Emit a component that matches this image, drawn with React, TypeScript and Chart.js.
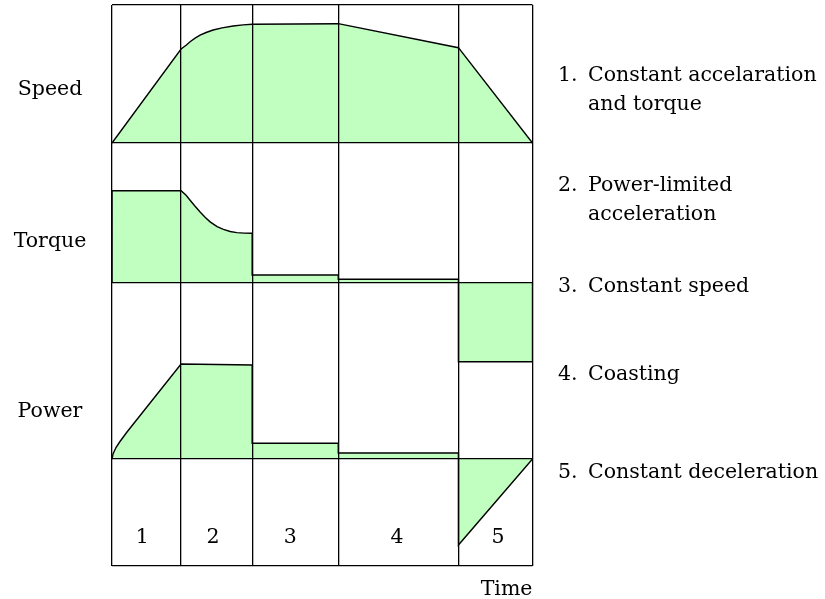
import React, { useEffect, useRef } from "react";
import { Chart, registerables } from "chart.js";

Chart.register(...registerables);

// Time axis: boundaries of the five phases
const segmentBounds = [0, 1.643, 3.333, 5.381, 8.238, 10];
const segmentLabels = ["1", "2", "3", "4", "5"];
const segmentLabelTimes = [0.72, 2.4, 4.24, 6.78, 9.18];
const segmentLabelLevel = 4.1;

// Vertical layout: panel baselines (shared vertical scale 0..100)
const panelNames = ["Speed", "Torque", "Power"];
const panelBaselines = [75.4, 50.45, 19.07];
const panelLabelLevels = [83.96, 56.92, 26.56];

// Speed profile
const speedTime = [0, 1.643, 1.762, 1.857, 1.976, 2.095, 2.238, 2.405, 2.619, 2.881, 3.119, 3.333, 5.381, 8.238, 10];
const speedValues = [0, 16.76, 17.43, 18.06, 18.68, 19.21, 19.7, 20.14, 20.53, 20.86, 21.05, 21.16, 21.27, 16.99, 0];

// Torque profile
const torqueTime = [0, 0, 1.643, 1.762, 1.857, 1.976, 2.095, 2.214, 2.333, 2.5, 2.65, 2.81, 2.97, 3.14, 3.333, 3.333, 5.381, 5.381, 8.238, 8.238, 10, 10];
const torqueValues = [0, 16.45, 16.45, 15.62, 14.75, 13.68, 12.66, 11.72, 10.9, 10.05, 9.55, 9.17, 8.97, 8.88, 8.86, 1.43, 1.43, 0.66, 0.66, -14.03, -14.03, 0];

// Power profile
const powerTime = [0, 0.024, 0.095, 0.19, 0.357, 0.905, 1.643, 3.333, 3.333, 5.381, 5.381, 8.238, 8.238, 10];
const powerValues = [0, 0.89, 2.05, 3.12, 4.81, 9.98, 16.93, 16.75, 2.8, 2.8, 1.07, 1.07, -15.33, 0];

// Legend text on the right
const listNumbers = ["1.", "2.", "3.", "4.", "5."];
const listLines = [
  ["Constant accelaration", "and torque"],
  ["Power-limited", "acceleration"],
  ["Constant speed"],
  ["Coasting"],
  ["Constant deceleration"],
];
const listLevels = [86.45, 66.84, 48.84, 33.16, 15.69];
const listLineStep = 5.17;

const FILL = "#c1ffc1";
const LINE = "#000000";
const FONT = '20.5px "DejaVu Serif"';

function makeDataset(times: number[], values: number[], base: number) {
  return {
    data: times.map((t, i) => ({ x: t, y: base + values[i] })),
    borderColor: LINE,
    borderWidth: 1.4,
    backgroundColor: FILL,
    fill: { value: base },
    pointRadius: 0,
    tension: 0,
  };
}

const textPlugin = {
  id: "textPlugin",
  afterDraw(chart: any) {
    const { ctx, chartArea, scales } = chart;
    const x = scales.x;
    const y = scales.y;
    ctx.save();
    ctx.fillStyle = "#000";
    ctx.font = FONT;
    ctx.textBaseline = "alphabetic";

    ctx.textAlign = "center";
    panelNames.forEach((n, i) => {
      ctx.fillText(n, chartArea.left - 62, y.getPixelForValue(panelLabelLevels[i]));
    });
    segmentLabels.forEach((s, i) => {
      ctx.fillText(s, x.getPixelForValue(segmentLabelTimes[i]), y.getPixelForValue(segmentLabelLevel));
    });

    ctx.textAlign = "right";
    ctx.fillText("Time", chartArea.right, chartArea.bottom + 29);

    ctx.textAlign = "left";
    listNumbers.forEach((num, i) => {
      ctx.fillText(num, chartArea.right + 25.5, y.getPixelForValue(listLevels[i]));
      listLines[i].forEach((line, j) => {
        ctx.fillText(line, chartArea.right + 55.5, y.getPixelForValue(listLevels[i] - j * listLineStep));
      });
    });
    ctx.restore();
  },
};

export default function App() {
  const ref = useRef<HTMLCanvasElement | null>(null);
  useEffect(() => {
    if (!ref.current) return;
    const chart = new Chart(ref.current, {
      type: "line",
      data: {
        datasets: [
          makeDataset(speedTime, speedValues, panelBaselines[0]),
          makeDataset(torqueTime, torqueValues, panelBaselines[1]),
          makeDataset(powerTime, powerValues, panelBaselines[2]),
        ] as any,
      },
      options: {
        animation: false,
        responsive: false,
        layout: { padding: { left: 112, top: 5, right: 292.5, bottom: 33 } },
        plugins: { legend: { display: false }, tooltip: { enabled: false } },
        scales: {
          x: {
            type: "linear",
            min: 0,
            max: 10,
            afterBuildTicks: (s: any) => {
              s.ticks = segmentBounds.map((v) => ({ value: v }));
            },
            afterFit: (s: any) => {
              s.height = 0;
            },
            ticks: { display: false },
            grid: { color: LINE, lineWidth: 1.3, drawTicks: false, z: 1 },
            border: { display: false },
          },
          y: {
            type: "linear",
            min: 0,
            max: 100,
            afterBuildTicks: (s: any) => {
              s.ticks = [0, ...panelBaselines, 100].map((v) => ({ value: v }));
            },
            afterFit: (s: any) => {
              s.width = 0;
            },
            ticks: { display: false },
            grid: { color: LINE, lineWidth: 1.3, drawTicks: false, z: 1 },
            border: { display: false },
          },
        },
      } as any,
      plugins: [textPlugin],
    });
    return () => chart.destroy();
  }, []);
  return (
    <div style={{ position: "fixed", left: 0, top: 0, width: 825, height: 599, background: "#fff" }}>
      <canvas ref={ref} width={825} height={599} />
    </div>
  );
}
